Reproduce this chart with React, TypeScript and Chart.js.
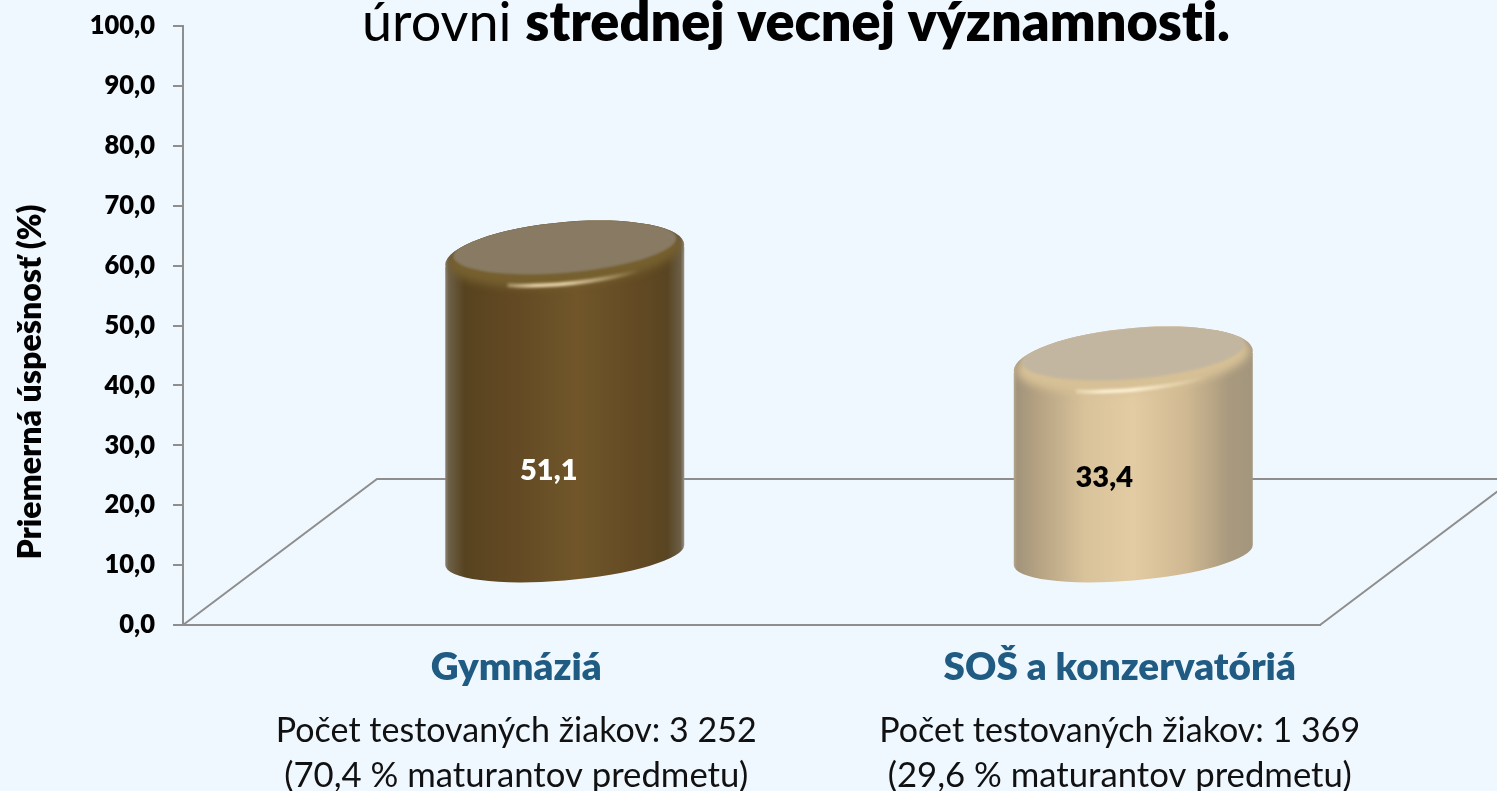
import React, { useEffect, useRef } from "react";
import { Chart, registerables } from "chart.js";

Chart.register(...registerables);

const categories = ["Gymnáziá", "SOŠ a konzervatóriá"];
const averageSuccess = [51.1, 33.4];
const valueLabels = ["51,1", "33,4"];
const pupilLines = ["Počet testovaných žiakov: 3 252", "Počet testovaných žiakov: 1 369"];
const shareLines = ["(70,4 % maturantov predmetu)", "(29,6 % maturantov predmetu)"];
const yTickLabels = ["0,0", "10,0", "20,0", "30,0", "40,0", "50,0", "60,0", "70,0", "80,0", "90,0", "100,0"];
const yAxisTitle = "Priemerná úspešnosť (%)";
const titleRegular = "úrovni ";
const titleBold = "strednej vecnej významnosti.";

const FONT = "Lato, Carlito, 'Noto Sans', sans-serif";
const BG = "#f0f8ff";
const AXIS = "#8e8e8e";
const DEPTH_X = 194;
const DEPTH_Y = 146;
const BAR_DX = 97.5;
const TOP_DY = -62;
const BASE_DY = -69;
const LABEL_DX = [49, 84];
const VALUE_DX = [-16, -29];
const VALUE_Y = [471, 478];

const palettes = [
  {
    stops: [[0, "#8d8373"], [0.015, "#6d6048"], [0.08, "#57431f"], [0.3, "#644a24"], [0.55, "#705629"], [0.8, "#634a24"], [0.93, "#594522"], [0.985, "#6b5f48"], [1, "#9a9182"]],
    rim: "#76602f",
    face: "#887a63",
    glint: "#f4dfb8",
    text: "#ffffff",
  },
  {
    stops: [[0, "#b5a78c"], [0.015, "#a2947b"], [0.1, "#b5a282"], [0.3, "#d9c39b"], [0.5, "#e3cca3"], [0.72, "#d0b992"], [0.9, "#a99a7e"], [1, "#a3967d"]],
    rim: "#d6c096",
    face: "#c3b6a0",
    glint: "#fff4d8",
    text: "#000000",
  },
];

function ellipsePath(ctx: CanvasRenderingContext2D, cx: number, cy: number, a: number, b: number, tilt: number, start = 0, end = Math.PI * 2, ccw = false) {
  ctx.save();
  ctx.transform(1, -tilt / a, 0, 1, cx, cy);
  ctx.ellipse(0, 0, a, b, 0, start, end, ccw);
  ctx.restore();
}

const backdropPlugin = {
  id: "backdrop",
  beforeDraw(chart: any) {
    const { ctx, width, height } = chart;
    ctx.save();
    ctx.fillStyle = BG;
    ctx.fillRect(0, 0, width, height);
    ctx.restore();
  },
  beforeDatasetsDraw(chart: any) {
    const { ctx, chartArea: area } = chart;
    ctx.save();
    ctx.strokeStyle = AXIS;
    ctx.lineWidth = 2;
    ctx.beginPath();
    ctx.moveTo(area.left, area.bottom);
    ctx.lineTo(area.left + DEPTH_X, area.bottom - DEPTH_Y);
    ctx.lineTo(area.right + DEPTH_X, area.bottom - DEPTH_Y);
    ctx.moveTo(area.right, area.bottom);
    ctx.lineTo(area.right + DEPTH_X, area.bottom - DEPTH_Y);
    ctx.stroke();
    ctx.restore();
  },
};

const cylinderPlugin = {
  id: "cylinders",
  afterDatasetsDraw(chart: any) {
    const { ctx } = chart;
    const meta = chart.getDatasetMeta(0);
    meta.data.forEach((bar: any, i: number) => {
      const p = palettes[i];
      const cx = bar.x + BAR_DX;
      const a = bar.width / 2;
      const topY = bar.y + TOP_DY;
      const baseY = bar.base + BASE_DY;
      const tilt = 10;
      ctx.save();
      const grad = ctx.createLinearGradient(cx - a, 0, cx + a, 0);
      p.stops.forEach(([o, c]: any) => grad.addColorStop(o, c));
      // silhouette: side wall plus the top ellipse, wound the same way
      ctx.save();
      ctx.beginPath();
      ctx.moveTo(cx - a, topY + tilt);
      ctx.lineTo(cx - a, baseY + tilt);
      ellipsePath(ctx, cx, baseY, a, 25.5, tilt, Math.PI, 0, true);
      ctx.lineTo(cx + a, topY - tilt);
      ctx.closePath();
      ellipsePath(ctx, cx, topY - 2, a, 33, tilt, 0, Math.PI * 2, true);
      ctx.fillStyle = grad;
      ctx.fill("nonzero");
      ctx.clip("nonzero");
      // bevelled rim, softly blended into the wall
      ctx.save();
      ctx.filter = "blur(4px)";
      ctx.beginPath();
      ellipsePath(ctx, cx, topY - 3, a - 3, 32, tilt);
      ctx.fillStyle = p.rim;
      ctx.fill();
      ctx.restore();
      // glint along the front of the rim
      const glint = ctx.createLinearGradient(cx - 75, 0, cx + 75, 0);
      glint.addColorStop(0, "rgba(255,240,205,0)");
      glint.addColorStop(0.3, p.glint);
      glint.addColorStop(0.5, p.glint);
      glint.addColorStop(1, "rgba(255,240,205,0)");
      ctx.save();
      ctx.filter = "blur(1.5px)";
      ctx.beginPath();
      ellipsePath(ctx, cx, topY - 1, a - 6, 28, tilt, 0.6, 2.1);
      ctx.strokeStyle = glint;
      ctx.lineWidth = 3.5;
      ctx.stroke();
      ctx.restore();
      // flat cap
      ctx.save();
      ctx.filter = "blur(1px)";
      ctx.beginPath();
      ellipsePath(ctx, cx, topY - 10, a - 8, 26, 9);
      ctx.fillStyle = p.face;
      ctx.fill();
      ctx.restore();
      ctx.restore();
      // value label
      ctx.font = `800 29px ${FONT}`;
      ctx.fillStyle = p.text;
      ctx.textAlign = "center";
      ctx.textBaseline = "middle";
      ctx.fillText(valueLabels[i], cx + VALUE_DX[i], VALUE_Y[i]);
      ctx.restore();
    });
  },
};

const textPlugin = {
  id: "texts",
  afterDraw(chart: any) {
    const { ctx, scales } = chart;
    ctx.save();
    ctx.textBaseline = "alphabetic";
    // headline (clipped off at the top in the source)
    const regular = `54px ${FONT}`;
    const bold = `800 54px ${FONT}`;
    (ctx as any).letterSpacing = "0.01px";
    ctx.font = regular;
    const w1 = ctx.measureText(titleRegular).width;
    ctx.font = bold;
    const w2 = ctx.measureText(titleBold).width;
    const startX = 796 - (w1 + w2) / 2;
    ctx.textAlign = "left";
    ctx.fillStyle = "#000000";
    ctx.font = regular;
    ctx.fillText(titleRegular, startX, 41);
    ctx.font = bold;
    ctx.fillText(titleBold, startX + w1, 41);
    // y axis caption
    ctx.save();
    ctx.translate(41, 382);
    ctx.rotate(-Math.PI / 2);
    ctx.textAlign = "center";
    ctx.font = `800 32px ${FONT}`;
    ctx.fillText(yAxisTitle, 0, 0);
    ctx.restore();
    // category captions
    ctx.textAlign = "center";
    categories.forEach((name, i) => {
      const x = scales.x.getPixelForTick(i) + LABEL_DX[i];
      ctx.font = `800 38.6px ${FONT}`;
      ctx.fillStyle = "#1f5b82";
      ctx.fillText(name, x, 680);
      ctx.font = `34px ${FONT}`;
      ctx.fillStyle = "#111111";
      ctx.fillText(pupilLines[i], x, 742);
      ctx.font = `34.7px ${FONT}`;
      ctx.fillText(shareLines[i], x, 787);
    });
    ctx.restore();
  },
};

export default function App() {
  const ref = useRef<HTMLCanvasElement>(null);
  useEffect(() => {
    document.body.style.margin = "0";
    document.body.style.background = BG;
    const chart = new Chart(ref.current!, {
      type: "bar",
      data: {
        labels: categories,
        datasets: [
          {
            data: averageSuccess,
            backgroundColor: "rgba(0,0,0,0)",
            borderWidth: 0,
            barThickness: 239,
          },
        ],
      },
      options: {
        animation: false,
        responsive: false,
        layout: { padding: { top: 26, right: 177, left: 0, bottom: 0 } },
        plugins: { legend: { display: false }, tooltip: { enabled: false } },
        scales: {
          x: {
            afterFit: (s: any) => {
              s.height = 166;
            },
            grid: { display: false, drawTicks: false },
            border: { display: true, color: AXIS, width: 2 },
            ticks: { display: false },
          },
          y: {
            min: 0,
            max: 100,
            afterFit: (s: any) => {
              s.width = 183;
              s.paddingTop = 0;
              s.paddingBottom = 0;
            },
            grid: { drawOnChartArea: false, drawTicks: true, tickLength: 10, color: AXIS, lineWidth: 2 },
            border: { display: true, color: AXIS, width: 2 },
            ticks: {
              stepSize: 10,
              padding: 18,
              color: "#000000",
              font: { family: FONT, size: 25.5, weight: "800" },
              callback: (_v: any, i: number) => yTickLabels[i],
            },
          },
        },
      } as any,
      plugins: [backdropPlugin, cylinderPlugin, textPlugin],
    });
    return () => chart.destroy();
  }, []);
  return <canvas ref={ref} width={1497} height={791} style={{ display: "block", position: "absolute", left: 0, top: 0 }} />;
}
